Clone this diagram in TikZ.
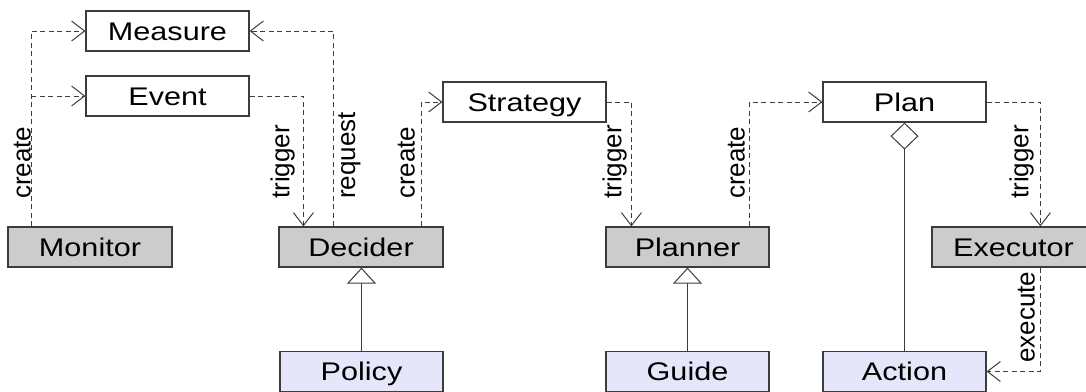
\documentclass[tikz,border=0pt]{standalone}
\usepackage{fontspec}
\setmainfont{Liberation Sans}
\usetikzlibrary{arrows.meta,calc}
\definecolor{boxgray}{RGB}{204,204,204}
\definecolor{boxblue}{RGB}{230,230,250}
\definecolor{linecol}{RGB}{60,60,60}
\newcommand{\boxtext}[1]{\scalebox{1.2}[1]{#1}}
\begin{document}
\begin{tikzpicture}[x=1pt,y=-1pt,
  cls/.style={draw=linecol, line width=1.2pt, rectangle, minimum width=163pt, minimum height=40pt,
    inner sep=0pt, text height=18.3pt, text depth=0pt, font=\fontsize{25.5}{30}\selectfont},
  plainbox/.style={cls, fill=white},
  corebox/.style={cls, fill=boxgray},
  extbox/.style={cls, fill=boxblue},
  dep/.style={draw=linecol, line width=1pt, dash pattern=on 5pt off 3.5pt,
    -{Straight Barb[length=13pt,width=20pt]}},
  gen/.style={draw=linecol, line width=1pt, -{Triangle[open,length=16pt,width=29pt,fill=white]}},
  agg/.style={draw=linecol, line width=1pt, -{Diamond[open,length=27pt,width=28pt,fill=white]}},
  lbl/.style={rotate=90, inner sep=0pt, font=\fontsize{26}{30}\selectfont}
]
\useasboundingbox (0,0) rectangle (1086,391);

\node[plainbox] (measure) at (167.5,31) {\boxtext{Measure}};
\node[plainbox] (event) at (167.5,96) {\boxtext{Event}};
\node[corebox, minimum width=164pt] (monitor) at (90,247) {\boxtext{Monitor}};
\node[corebox, minimum width=164pt] (decider) at (361,247) {\boxtext{Decider}};
\node[plainbox] (strategy) at (524.5,102) {\boxtext{Strategy}};
\node[corebox] (planner) at (687.5,247) {\boxtext{Planner}};
\node[plainbox] (plan) at (904.5,102) {\boxtext{Plan}};
\node[corebox] (executor) at (1013.5,247) {\boxtext{Executor}};
\node[extbox] (action) at (904.5,371.5) {\boxtext{Action}};
\node[extbox] (policy) at (361.5,371.5) {\boxtext{Policy}};
\node[extbox] (guide) at (687.5,371.5) {\boxtext{Guide}};

\coordinate (c1) at ([xshift=24pt]monitor.north west);
\draw[dep] (c1) |- (measure.west);
\draw[dep] (c1 |- event.west) -- (event.west);
\draw[dep] (event.east) -| ([xshift=25pt]decider.north west);
\draw[dep] ([xshift=55pt]decider.north west) |- (measure.east);
\draw[dep] ([xshift=-22pt]decider.north east) |- (strategy.west);
\draw[dep] (strategy.east) -| ([xshift=26pt]planner.north west);
\draw[dep] ([xshift=-20pt]planner.north east) |- (plan.west);
\draw[dep] (plan.east) -| ([xshift=109pt]executor.north west);
\draw[dep] ([xshift=109pt]executor.south west) |- (action.east);

\draw[gen] (policy.north) -- (policy.north |- decider.south);
\draw[gen] (guide.north) -- (guide.north |- planner.south);
\draw[agg] (action.north) -- (action.north |- plan.south);

\node[lbl, anchor=south west] (l1) at (31,199) {create};
\node[lbl, anchor=south west] (l2) at (295,199) {trigger};
\node[lbl, anchor=north west] (l3) at (338,199) {request};
\node[lbl, anchor=south west] (l4) at (415,199) {create};
\node[lbl, anchor=south west] (l5) at (627,199) {trigger};
\node[lbl, anchor=south west] (l6) at (745,199) {create};
\node[lbl, anchor=south west] (l7) at (1034,199) {trigger};
\node[lbl, anchor=south west] (l8) at (1035,363) {execute};
\end{tikzpicture}
\end{document}
